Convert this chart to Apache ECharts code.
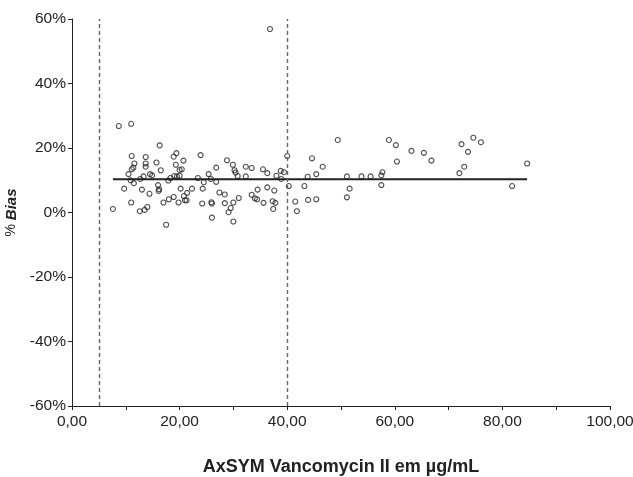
<!DOCTYPE html>
<html>
<head>
<meta charset="utf-8">
<script src="https://cdn.jsdelivr.net/npm/echarts@6/dist/echarts.min.js"></script>
<style>html,body{margin:0;padding:0;background:#fff}#c{width:633px;height:477px}</style>
</head>
<body>
<div id="c"></div>
<script>
// Concentration (µg/mL) and % bias
var concentration = [7.6,8.7,11.0,9.7,10.5,11.1,11.6,11.4,11.1,10.9,11.5,11.0,12.6,13.0,12.7,13.3,13.7,13.7,13.7,13.5,14.0,14.4,14.5,14.9,15.7,16.3,16.5,16.0,16.2,16.1,17.0,17.5,18.0,17.9,18.3,18.9,19.4,19.3,19.0,18.9,19.8,20.0,20.0,20.4,20.7,20.2,20.8,21.0,21.4,21.3,22.3,23.4,23.9,24.3,24.5,24.2,25.4,25.8,25.9,26.0,26.0,26.8,26.8,27.4,28.4,28.8,28.4,29.9,30.2,30.4,30.8,29.1,29.5,30.0,30.0,31.0,32.3,32.3,33.4,33.4,34.0,34.4,34.5,35.5,35.6,36.3,36.3,36.8,37.6,37.3,37.8,37.4,38.0,38.8,39.4,38.9,40.0,40.3,43.2,43.8,44.6,45.4,43.9,45.4,41.5,41.8,19.5,46.6,49.4,51.1,51.6,51.1,53.8,55.5,57.7,57.5,57.5,58.9,60.2,60.4,63.1,65.4,66.8,72.0,72.9,72.4,73.6,74.6,76.0,81.8,84.6];
var biasPct = [1.1,26.8,27.5,7.4,11.9,17.5,15.2,13.9,13.4,10.0,9.1,3.1,0.4,7.1,10.4,11.2,17.2,15.2,14.2,0.8,1.7,5.8,11.9,11.5,15.5,20.8,13.1,8.5,7.2,6.7,3.1,-3.8,4.1,9.9,10.7,17.3,18.4,14.8,11.3,4.8,3.1,11.4,13.2,13.4,16.1,7.4,5.1,3.8,6.1,3.8,7.4,10.7,17.8,7.4,9.4,2.8,11.9,10.4,3.2,2.8,-1.6,13.9,9.5,6.2,5.6,16.2,2.9,14.8,13.1,12.4,11.3,0.1,1.4,3.1,-2.8,4.5,14.2,11.2,13.8,5.5,4.4,4.1,7.1,13.4,3.0,12.2,7.8,56.9,6.8,3.5,3.0,1.1,11.4,12.9,12.5,10.4,17.5,8.2,8.2,11.1,16.8,11.9,3.9,4.1,3.4,0.4,11.2,14.2,22.5,11.2,7.4,4.7,11.2,11.2,12.5,11.5,8.5,22.5,20.9,15.8,19.1,18.5,16.1,12.2,14.2,21.2,18.8,23.2,21.8,8.2,15.2];
var meanBias = 10.3;
var meanRange = [7.6, 84.6];
var limitLines = [5, 40];
var xTitle = 'AxSYM Vancomycin II em µg/mL';

var points = concentration.map(function (x, i) { return [x, biasPct[i]]; });
var meanLine = meanRange.map(function (x) { return [x, meanBias]; });

var chart = echarts.init(document.getElementById('c'), null, {renderer: 'canvas'});
var font = 'Liberation Sans, Arial, Helvetica, sans-serif';
chart.setOption({
  animation: false,
  backgroundColor: '#fff',
  grid: {left: 72, right: 23, top: 19, bottom: 71, containLabel: false, outerBoundsMode: 'none'},
  xAxis: {
    type: 'value', min: 0, max: 100, interval: 10,
    name: xTitle, nameLocation: 'middle', nameGap: 52,
    nameTextStyle: {fontFamily: font, fontSize: 18, fontWeight: 'bold', color: '#222'},
    axisLine: {onZero: false, lineStyle: {color: '#222', width: 1}},
    axisTick: {length: 4, lineStyle: {color: '#222'}},
    axisLabel: {
      fontFamily: font, fontSize: 15.5, color: '#222', margin: 8,
      formatter: function (v) { return v % 20 === 0 ? v.toFixed(2).replace('.', ',') : ''; }
    },
    splitLine: {show: false}
  },
  yAxis: {
    type: 'value', min: -60, max: 60, interval: 20,
    name: '{a|% }{b|Bias}', nameLocation: 'middle', nameGap: 47, nameRotate: 90,
    nameTextStyle: {
      rich: {
        a: {fontFamily: font, fontSize: 14, color: '#222'},
        b: {fontFamily: font, fontSize: 15, fontWeight: 'bold', fontStyle: 'italic', color: '#222'}
      }
    },
    axisLine: {show: true, onZero: false, lineStyle: {color: '#222', width: 1}},
    axisTick: {show: true, length: 4, lineStyle: {color: '#222'}},
    axisLabel: {fontFamily: font, fontSize: 15.5, color: '#222', margin: 6, formatter: '{value}%'},
    splitLine: {show: false}
  },
  series: [
    {
      type: 'line', data: meanLine, symbol: 'none', silent: true,
      lineStyle: {color: '#222', width: 2}, z: 3
    },
    {
      type: 'scatter', data: points, symbol: 'circle', symbolSize: 5,
      itemStyle: {color: 'rgba(255,255,255,0)', borderColor: '#222', borderWidth: 1.1},
      z: 4,
      markLine: {
        silent: true, symbol: 'none', label: {show: false},
        lineStyle: {color: '#666', width: 1.4, type: [4, 3]},
        data: limitLines.map(function (v) { return {xAxis: v}; })
      }
    }
  ]
});
</script>
</body>
</html>
